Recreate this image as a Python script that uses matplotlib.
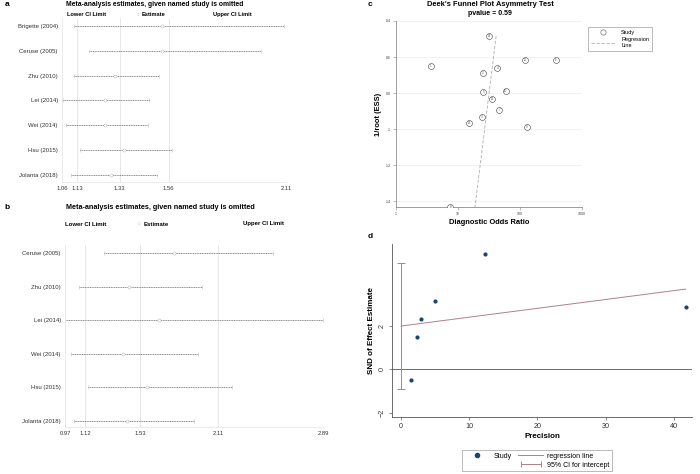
import matplotlib
matplotlib.use("Agg")
import matplotlib.pyplot as plt
import numpy as np
from matplotlib.lines import Line2D
from matplotlib.legend_handler import HandlerLine2D
from matplotlib.ticker import FixedLocator, NullLocator

plt.rcParams['font.family'] = ['Liberation Sans', 'DejaVu Sans']

# ---------------- data ----------------
a_studies = ["Brigette (2004)", "Ceruse (2005)", "Zhu (2010)", "Lei (2014)",
             "Wei (2014)", "Hsu (2015)", "Jolanta (2018)"]
a_lower = [1.116, 1.187, 1.116, 1.065, 1.079, 1.144, 1.102]
a_est = [1.53, 1.53, 1.31, 1.26, 1.26, 1.35, 1.29]
a_upper = [2.101, 1.993, 1.515, 1.468, 1.463, 1.576, 1.505]
a_ticks = [1.06, 1.13, 1.33, 1.56, 2.11]
a_grid = [1.13, 1.33, 1.56]

b_studies = ["Ceruse (2005)", "Zhu (2010)", "Lei (2014)", "Wei (2014)",
             "Hsu (2015)", "Jolanta (2018)"]
b_lower = [1.261, 1.075, 0.97, 1.015, 1.142, 1.037]
b_est = [1.78, 1.45, 1.67, 1.40, 1.58, 1.43]
b_upper = [2.516, 1.993, 2.89, 1.963, 2.21, 1.93]
b_ticks = [0.97, 1.12, 1.53, 2.11, 2.89]
b_grid = [1.12, 1.53, 2.11]

c_ids = [14, 1, 11, 6, 4, 2, 5, 10, 13, 7, 3, 12, 9, 8]
c_dor = [31.6, 3.67, 120, 377, 43, 25.3, 25.6, 58.8, 35.7, 46.4, 24.1, 15, 130, 7.5]
c_inv_ess = [0.0483, 0.0648, 0.0617, 0.0617, 0.0659, 0.0687, 0.0796, 0.0787,
             0.0833, 0.0894, 0.0933, 0.0965, 0.0989, 0.1432]
c_reg_intercept = 4.118   # ln(DOR) at 1/root(ESS) = 0
c_reg_slope = -8.27
c_xticks = [1, 10, 100, 1000]
c_yticks = [0.04, 0.06, 0.08, 0.10, 0.12, 0.14]
c_pvalue = 0.59

d_prec = [1.47, 2.34, 2.88, 4.98, 12.26, 41.7]
d_snd = [-0.48, 1.50, 2.31, 3.15, 5.29, 2.84]
d_reg_intercept = 1.986
d_reg_slope = 0.0406
d_ci = [-0.90, 4.86]
d_xticks = [0, 10, 20, 30, 40]
d_yticks = [-2, 0, 2]

# ---------------- figure ----------------
W, H = 700, 474
fig = plt.figure(figsize=(7, 4.74), dpi=100)
fig.patch.set_facecolor('white')


def ax_at(x0, y0, x1, y1):
    return fig.add_axes([x0 / W, 1 - y1 / H, (x1 - x0) / W, (y1 - y0) / H])


def ftext(x, y, s, **kw):
    fig.text(x / W, 1 - y / H, s, **kw)


def influence_panel(ax, studies, lower, est, upper, ticks, grid, pad_bottom, pad_top):
    n = len(studies)
    ypos = np.arange(n)[::-1]
    for g in grid:
        ax.axvline(g, color='#e3e3e3', lw=0.6, zorder=0)
    for y, lo, e, up in zip(ypos, lower, est, upper):
        ax.plot([lo, up], [y, y], color='#5e5e5e', lw=0.5,
                linestyle=(0, (1.6, 0.9)), zorder=2)
        ax.plot([lo, up], [y, y], linestyle='none', marker='|', ms=2.5,
                mew=0.4, color='#bdbdbd', zorder=2)
        ax.plot([e], [y], marker='o', ms=2.2, mfc='white', mec='#bdbdbd',
                mew=0.4, zorder=3)
    ax.set_xlim(ticks[0], ticks[-1])
    ax.set_ylim(-pad_bottom, n - 1 + pad_top)
    ax.set_yticks(ypos)
    ax.set_yticklabels(studies, fontsize=4.3, color='#333333')
    ax.set_xticks(ticks)
    ax.set_xticklabels(['%.2f' % t for t in ticks], fontsize=4.2, color='#333333')
    ax.tick_params(axis='both', length=0, pad=3)
    for s in ['top', 'right']:
        ax.spines[s].set_visible(False)
    for s in ['left', 'bottom']:
        ax.spines[s].set_color('#e8e8e8')
        ax.spines[s].set_linewidth(0.6)


# ---------------- panel a ----------------
axa = ax_at(62, 18, 286, 182)
influence_panel(axa, a_studies, a_lower, a_est, a_upper, a_ticks, a_grid, 0.28, 0.32)
ftext(5, 4, 'a', fontsize=6, fontweight='bold', va='center', ha='left')
ftext(155, 4, 'Meta-analysis estimates, given named study is omitted',
      fontsize=4.9, fontweight='bold', va='center', ha='center')
ftext(67, 14.7, 'Lower CI Limit', fontsize=4.1, fontweight='bold', va='center', ha='left')
ftext(136.5, 14.7, '○', fontsize=3.5, color='#c0c0c0', va='center', ha='left')
ftext(142, 14.7, 'Estimate', fontsize=4.1, fontweight='bold', va='center', ha='left')
ftext(213, 14.7, 'Upper CI Limit', fontsize=4.1, fontweight='bold', va='center', ha='left')

# ---------------- panel b ----------------
axb = ax_at(65, 245, 323, 427)
influence_panel(axb, b_studies, b_lower, b_est, b_upper, b_ticks, b_grid, 0.18, 0.24)
ftext(4, 207.5, 'b', fontsize=6, fontweight='bold', va='center', ha='left')
ftext(160, 207.5, 'Meta-analysis estimates, given named study is omitted',
      fontsize=5.2, fontweight='bold', va='center', ha='center')
ftext(65, 224, 'Lower CI Limit', fontsize=4.3, fontweight='bold', va='center', ha='left')
ftext(138, 224, '○', fontsize=3.5, color='#c0c0c0', va='center', ha='left')
ftext(143.5, 224, 'Estimate', fontsize=4.3, fontweight='bold', va='center', ha='left')
ftext(243, 224, 'Upper CI Limit', fontsize=4.3, fontweight='bold', va='center', ha='left')

# ---------------- panel c ----------------
axc = ax_at(396, 21, 582, 207)
axc.set_xscale('log')
for yt in c_yticks:
    axc.axhline(yt, color='#f0f0f0', lw=0.6, zorder=0)
axc.scatter(c_dor, c_inv_ess, s=18, facecolors='white', edgecolors='#555555',
            linewidths=0.45, zorder=3)
for i, x, y in zip(c_ids, c_dor, c_inv_ess):
    axc.text(x, y, str(i), fontsize=2.2, ha='center', va='center',
             color='#555555', zorder=4)
yy = np.array([min(c_inv_ess), max(c_inv_ess)])
axc.plot(np.exp(c_reg_intercept + c_reg_slope * yy), yy, color='#a9b0b8',
         lw=0.6, linestyle=(0, (4, 2)), zorder=2)
axc.set_xlim(1, 1000)
axc.set_ylim(0.1432, 0.04)
axc.xaxis.set_major_locator(FixedLocator(c_xticks))
axc.xaxis.set_minor_locator(NullLocator())
axc.set_xticklabels([str(t) for t in c_xticks], fontsize=2.6, color='#444444')
axc.set_yticks(c_yticks)
axc.set_yticklabels([('%.2f' % t).lstrip('0').rstrip('0') for t in c_yticks],
                    fontsize=2.6, color='#444444')
axc.tick_params(axis='both', length=2, width=0.4, color='#888888', pad=1.5)
for s in ['top', 'right']:
    axc.spines[s].set_visible(False)
for s in ['left', 'bottom']:
    axc.spines[s].set_color('#777777')
    axc.spines[s].set_linewidth(0.5)
axc.set_xlabel('Diagnostic Odds Ratio', fontsize=5.4, fontweight='bold', labelpad=2)
axc.set_ylabel('1/root (ESS)', fontsize=5.4, fontweight='bold', labelpad=3)
ftext(368, 5, 'c', fontsize=6, fontweight='bold', va='center', ha='left')
ftext(490, 4, "Deek's Funnel Plot Asymmetry Test", fontsize=5.4,
      fontweight='bold', va='center', ha='center')
ftext(490, 13.5, 'pvalue = %.2f' % c_pvalue, fontsize=5.0,
      fontweight='bold', va='center', ha='center')
c_handles = [Line2D([], [], linestyle='none', marker='o', ms=3.8, mfc='white',
                    mec='#666666', mew=0.45),
             Line2D([], [], color='#a9b0b8', lw=0.6, linestyle=(0, (4, 2)))]
legc = axc.legend(c_handles, ['Study', 'Regression\nLine'], loc='upper left',
                  bbox_to_anchor=(585 / W, 1 - 24 / H), bbox_transform=fig.transFigure,
                  fontsize=4, frameon=True, fancybox=False, handlelength=4.5,
                  borderpad=0.5, labelspacing=0.5, handletextpad=1.0)
legc.get_frame().set_edgecolor('#888888')
legc.get_frame().set_linewidth(0.5)

# ---------------- panel d ----------------
axd = ax_at(392, 244, 692, 417)
navy = '#1a476f'
maroon = '#b07f86'
axd.axhline(0, color='#555555', lw=0.6, zorder=1)
xx = np.array([0, max(d_prec)])
axd.plot(xx, d_reg_intercept + d_reg_slope * xx, color=maroon, lw=0.7, zorder=2)
axd.errorbar([0], [(d_ci[0] + d_ci[1]) / 2], yerr=[[(d_ci[1] - d_ci[0]) / 2]],
             fmt='none', ecolor=maroon, elinewidth=0.7, capsize=2.6,
             capthick=0.7, zorder=2)
axd.scatter(d_prec, d_snd, s=9, color=navy, zorder=3, linewidths=0)
axd.set_xlim(-1.32, 42.64)
axd.set_ylim(-2.19, 5.75)
axd.set_xticks(d_xticks)
axd.set_xticklabels([str(t) for t in d_xticks], fontsize=5.2, color='#333333')
axd.set_yticks(d_yticks)
axd.set_yticklabels(['\u22122' if t < 0 else str(t) for t in d_yticks],
                    fontsize=5.2, color='#333333', rotation=90, va='center')
axd.tick_params(axis='both', length=2.5, width=0.5, color='#555555', pad=2)
for s in ['top', 'right']:
    axd.spines[s].set_visible(False)
for s in ['left', 'bottom']:
    axd.spines[s].set_color('#555555')
    axd.spines[s].set_linewidth(0.6)
axd.set_xlabel('Precision', fontsize=5.8, fontweight='bold', labelpad=2)
axd.set_ylabel('SND of Effect Estimate', fontsize=5.8, fontweight='bold', labelpad=3)
ftext(368, 236, 'd', fontsize=6, fontweight='bold', va='center', ha='left')

d_h_study = Line2D([], [], linestyle='none', marker='o', ms=3, color=navy)
d_h_blank = Line2D([], [], linestyle='none', marker=None, color='none')
d_h_reg = Line2D([], [], color=maroon, lw=0.7)
d_h_ci = Line2D([], [], color=maroon, lw=0.7, marker='|', ms=4, mew=0.7)
legd = axd.legend([d_h_study, d_h_blank, d_h_reg, d_h_ci],
                  ['Study', '', 'regression line', '95% CI for intercept'],
                  ncol=2, loc='upper left',
                  bbox_to_anchor=(459 / W, 1 - 447 / H), bbox_transform=fig.transFigure,
                  fontsize=5, frameon=True, fancybox=False, handlelength=3.5,
                  borderpad=0.35, labelspacing=0.25, handletextpad=0.6,
                  columnspacing=1.0,
                  handler_map={d_h_study: HandlerLine2D(numpoints=1),
                               d_h_ci: HandlerLine2D(numpoints=2),
                               d_h_reg: HandlerLine2D(numpoints=1)})
legd.get_frame().set_edgecolor('#888888')
legd.get_frame().set_linewidth(0.5)

fig.savefig('out.png', dpi=100, facecolor='white')
